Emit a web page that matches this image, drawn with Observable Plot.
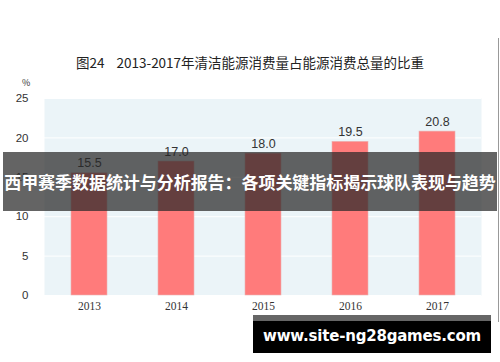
<!DOCTYPE html>
<html><head><meta charset="utf-8">
<script src="https://cdn.jsdelivr.net/npm/d3@7"></script>
<script src="https://cdn.jsdelivr.net/npm/@observablehq/plot@0.6"></script>
<style>
html,body{margin:0;padding:0;background:#fff;}
#wrap{position:relative;width:500px;height:362px;overflow:hidden;font-family:"Noto Sans CJK SC",sans-serif;}
#title{position:absolute;left:0;width:500px;top:52px;text-align:center;font-size:13.5px;color:#222;white-space:pre;}
#pct{position:absolute;left:22px;top:76px;font-size:9px;color:#333;}
#banner{position:absolute;left:3px;width:494px;top:152px;height:59px;background:rgba(40,40,40,0.72);color:#fff;font-weight:bold;font-size:17px;line-height:59px;text-align:center;white-space:nowrap;letter-spacing:-0.05px;}
#wm{position:absolute;left:253px;width:238px;top:315px;height:38px;background:#000;border-top:6px solid #666;box-sizing:border-box;color:#fff;font-weight:bold;font-size:15px;line-height:31px;text-align:center;white-space:nowrap;font-family:"DejaVu Sans",sans-serif;letter-spacing:-0.2px;}
#edge{position:absolute;left:498px;top:38px;width:1px;height:284px;background:#999;}
</style></head>
<body><div id="wrap"></div>
<script>
const years = ["2013","2014","2015","2016","2017"];
const shares = [15.5, 17.0, 18.0, 19.5, 20.8];
const yTicks = [0, 5, 10, 15, 20, 25];
const titleText = "图24    2013-2017年清洁能源消费量占能源消费总量的比重";
const unitText = "%";
const bannerText = "西甲赛季数据统计与分析报告：各项关键指标揭示球队表现与趋势";
const watermarkText = "www.site-ng28games.com";

const data = years.map((y, i) => ({year: y, value: shares[i]}));

const chart = Plot.plot({
  width: 500,
  height: 362,
  marginLeft: 44,
  marginRight: 19,
  marginTop: 98,
  marginBottom: 67,
  style: {background: "transparent", fontFamily: "Liberation Sans, sans-serif"},
  x: {domain: years, paddingInner: 0.59, paddingOuter: 0.295, label: null, tickSize: 0},
  y: {domain: [0, 25], ticks: yTicks, label: null, tickSize: 0},
  marks: [
    Plot.frame({fill: "#ebf4f8", stroke: null}),
    Plot.gridY(yTicks, {stroke: "#fff", strokeOpacity: 1, strokeWidth: 1}),
    Plot.barY(data, {x: "year", y: "value", fill: "#ff7b7b", stroke: "#e9b3b3", strokeWidth: 0.6}),
    Plot.text(data, {x: "year", y: "value", text: d => d.value.toFixed(1), dy: -10, fontSize: 12.5, fill: "#333"}),
    Plot.axisY({ticks: yTicks, tickSize: 0, tickPadding: 16, fontSize: 11.5, fill: "#333", label: null}),
    Plot.axisX({tickSize: 0, tickPadding: 6, fontSize: 11.5, fill: "#333", label: null, fontFamily: "Liberation Serif, serif"})
  ]
});
const wrap = document.getElementById("wrap");
wrap.appendChild(chart);
chart.style.position = "absolute"; chart.style.left = "0"; chart.style.top = "0";
function add(id, txt){const d=document.createElement("div");d.id=id;d.textContent=txt;wrap.appendChild(d);}
add("title", titleText);
add("pct", unitText);
add("edge", "");
add("banner", bannerText);
add("wm", watermarkText);
</script></body></html>
